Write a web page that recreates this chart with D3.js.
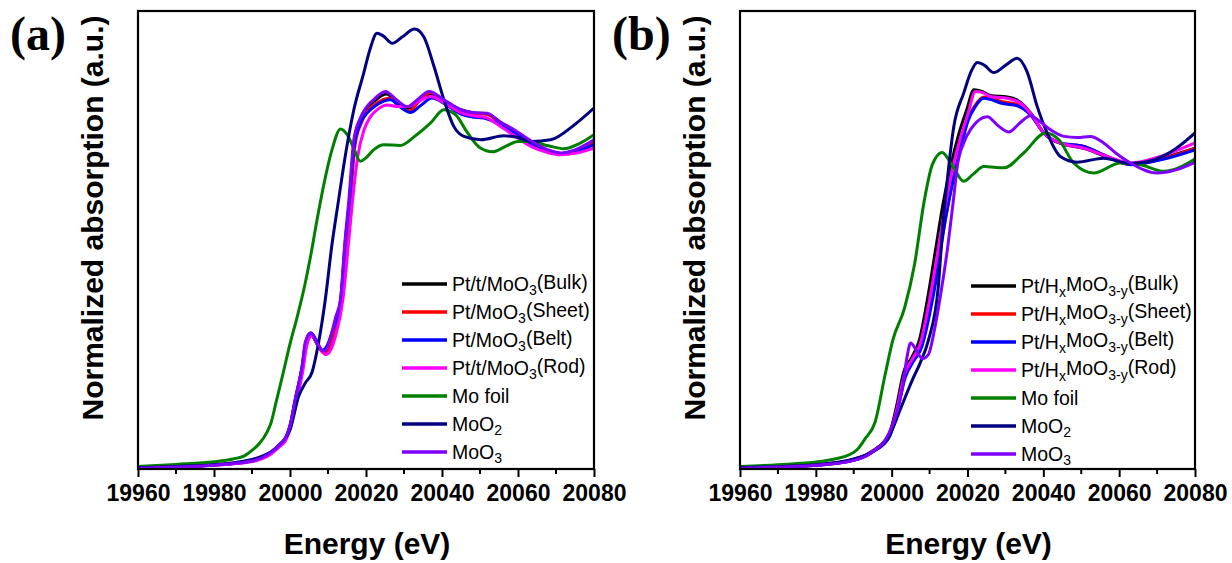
<!DOCTYPE html>
<html>
<head>
<meta charset="utf-8">
<script src="https://cdnjs.cloudflare.com/ajax/libs/d3/7.8.5/d3.min.js"></script>
<style>
  body { margin: 0; background: #fff; }
  svg { display: block; }
</style>
</head>
<body>
<svg id="chart" width="1232" height="563"></svg>
<script>
// Mo K-edge XANES: [energy (eV), normalized absorption]
var energy_ticks = [19960, 19980, 20000, 20020, 20040, 20060, 20080];
var energy_domain = [19960, 20080];
var absorption_domain = [0, 1.6];

var colors = ['#000000', '#ff0000', '#0000ff', '#ff00ff', '#008000', '#000080', '#8000ff'];

var labels_a = ['Pt/t/MoO_{3}(Bulk)', 'Pt/MoO_{3}(Sheet)', 'Pt/MoO_{3}(Belt)', 'Pt/t/MoO_{3}(Rod)',
    'Mo foil', 'MoO_{2}', 'MoO_{3}'];
var labels_b = ['Pt/H_{x}MoO_{3-y}(Bulk)', 'Pt/H_{x}MoO_{3-y}(Sheet)', 'Pt/H_{x}MoO_{3-y}(Belt)',
    'Pt/H_{x}MoO_{3-y}(Rod)', 'Mo foil', 'MoO_{2}', 'MoO_{3}'];

// ---- panel (a)
var a_bulk = [[19960,0.004],[19970,0.008],[19980,0.014],[19990,0.029],[19995,0.058],[19997.4,0.087],
    [19998.7,0.105],[20000,0.15],[20001.4,0.24],[20003.2,0.355],[20004.2,0.44],[20005.5,0.47],[20007.2,0.435],
    [20009,0.405],[20010.2,0.425],[20011.2,0.47],[20013.4,0.59],[20014.6,0.79],[20015.6,0.93],[20016.9,1.14],
    [20018.6,1.22],[20020.2,1.26],[20022.2,1.285],[20025.4,1.31],[20028.2,1.28],[20031,1.26],[20033.8,1.285],
    [20037,1.31],[20040.6,1.285],[20045,1.255],[20048,1.245],[20052,1.24],[20055,1.215],[20059,1.18],
    [20064.3,1.135],[20068,1.112],[20071.3,1.102],[20075,1.112],[20080,1.14]];
var a_sheet = [[19960,0.004],[19970,0.008],[19980,0.014],[19990,0.028],[19995,0.056],[19997.4,0.084],
    [19998.7,0.1],[20000,0.145],[20001.5,0.235],[20003.3,0.35],[20004.3,0.435],[20005.6,0.468],[20007.3,0.432],
    [20009.2,0.402],[20010.4,0.42],[20011.4,0.465],[20013.6,0.58],[20014.8,0.78],[20015.8,0.92],[20017.1,1.13],
    [20018.8,1.21],[20020.4,1.25],[20022.5,1.275],[20026,1.295],[20028.6,1.27],[20031.3,1.25],[20034,1.285],
    [20037,1.315],[20040.6,1.285],[20045,1.252],[20048,1.243],[20052,1.238],[20055,1.212],[20059,1.18],
    [20064.3,1.133],[20068,1.11],[20071.3,1.1],[20075,1.11],[20080,1.14]];
var a_belt = [[19960,0.004],[19970,0.008],[19980,0.014],[19990,0.029],[19995,0.058],[19997.4,0.087],
    [19998.7,0.105],[20000,0.152],[20001.4,0.245],[20003.2,0.36],[20004.2,0.445],[20005.6,0.475],[20007.1,0.445],
    [20008.5,0.415],[20009.8,0.432],[20011,0.475],[20013.3,0.59],[20014.5,0.79],[20015.6,0.93],[20016.9,1.13],
    [20018.6,1.21],[20020.4,1.245],[20022.6,1.27],[20026.5,1.29],[20029,1.265],[20031.7,1.245],[20034.4,1.27],
    [20037.4,1.296],[20040.8,1.275],[20045,1.24],[20048,1.23],[20051,1.226],[20055,1.205],[20059,1.175],
    [20064.3,1.13],[20068,1.108],[20071.3,1.1],[20075,1.108],[20080,1.133]];
var a_rod = [[19960,0.003],[19970,0.007],[19980,0.013],[19990,0.026],[19995,0.052],[19997.4,0.08],
    [19998.7,0.096],[20000,0.14],[20001.6,0.23],[20003.4,0.345],[20004.4,0.43],[20005.7,0.465],[20007.5,0.43],
    [20009.5,0.4],[20010.8,0.418],[20012,0.465],[20014,0.6],[20015.2,0.76],[20016.4,0.93],[20017.8,1.09],
    [20019.5,1.185],[20021.2,1.231],[20023.2,1.258],[20025.6,1.272],[20028.3,1.266],[20030.9,1.266],
    [20034,1.285],[20037,1.301],[20041.4,1.272],[20045,1.245],[20048,1.235],[20051.9,1.226],[20055,1.2],
    [20059,1.165],[20063.4,1.127],[20068,1.105],[20071.3,1.098],[20075,1.103],[20080,1.121]];
var a_foil = [[19960,0.009],[19970,0.016],[19980,0.025],[19985,0.035],[19988,0.046],[19990,0.065],
    [19992,0.09],[19994,0.13],[19995,0.161],[19996.4,0.237],[19998,0.324],[20000,0.437],[20002,0.537],
    [20004,0.649],[20005.5,0.749],[20007,0.862],[20009,1.0],[20011,1.113],[20013.3,1.188],[20015,1.169],
    [20017,1.113],[20018.5,1.075],[20020,1.087],[20022,1.115],[20024.7,1.133],[20029,1.13],[20033,1.164],
    [20037,1.209],[20040.5,1.255],[20043.6,1.237],[20046.7,1.175],[20050,1.122],[20053.3,1.108],
    [20057,1.129],[20060,1.144],[20063,1.144],[20068,1.129],[20072,1.119],[20076,1.136],[20080,1.168]];
var a_moo2 = [[19960,0.005],[19970,0.009],[19980,0.015],[19990,0.033],[19995,0.06],[19998,0.095],
    [20000,0.136],[20002.3,0.255],[20004,0.3],[20005.8,0.338],[20007.5,0.44],[20009.3,0.593],[20011,0.78],
    [20012.8,0.941],[20014.1,1.057],[20016.8,1.255],[20019.4,1.383],[20021,1.464],[20022.9,1.522],
    [20024.5,1.513],[20026.9,1.487],[20029.5,1.509],[20032.8,1.537],[20035.2,1.51],[20037.9,1.406],
    [20040.5,1.29],[20043.1,1.197],[20045.8,1.162],[20050.2,1.15],[20056.3,1.164],[20060,1.158],
    [20063.4,1.144],[20068.6,1.15],[20074.8,1.202],[20080,1.261]];
var a_moo3 = [[19960,0.003],[19970,0.007],[19980,0.013],[19985,0.019],[19990,0.028],[19993,0.042],
    [19995,0.058],[19997.4,0.087],[19998.7,0.105],[20000,0.15],[20001.4,0.244],[20003.2,0.36],[20004,0.442],
    [20005.4,0.476],[20007.1,0.44],[20008.9,0.412],[20010,0.43],[20011,0.476],[20012,0.53],[20013.3,0.593],
    [20014.5,0.8],[20015.5,0.941],[20016.8,1.15],[20018.5,1.226],[20020,1.262],[20022,1.29],[20025.1,1.319],
    [20028,1.29],[20030.9,1.266],[20033.5,1.29],[20036.6,1.319],[20040.5,1.29],[20044.9,1.255],[20048,1.245],
    [20051.9,1.243],[20055,1.215],[20059,1.185],[20064.3,1.139],[20068,1.115],[20071.3,1.104],[20075,1.115],
    [20080,1.15]];

// ---- panel (b)
var b_bulk = [[19960,0.005],[19980,0.014],[19990,0.033],[19995,0.064],[19999.3,0.12],[20001.3,0.22],
    [20003.2,0.34],[20005.3,0.39],[20007.3,0.45],[20009.4,0.59],[20011.5,0.76],[20013.6,0.93],[20015.6,1.06],
    [20017.7,1.17],[20019.8,1.255],[20021.7,1.325],[20024,1.318],[20026.1,1.305],[20030.5,1.3],[20033,1.29],
    [20036.6,1.245],[20040.1,1.175],[20044.5,1.138],[20050.7,1.12],[20056.8,1.09],[20063,1.066],
    [20070.9,1.085],[20080,1.121]];
var b_sheet = [[19960,0.004],[19980,0.013],[19990,0.03],[19995,0.06],[19999.3,0.112],[20001.4,0.205],
    [20003.5,0.325],[20005.6,0.38],[20007.8,0.43],[20009.9,0.55],[20012,0.7],[20014,0.86],[20016,1.0],
    [20018.1,1.12],[20020.2,1.225],[20022.2,1.275],[20024.3,1.3],[20029.6,1.282],[20033.1,1.274],
    [20036.6,1.24],[20040.1,1.174],[20044.5,1.138],[20050.7,1.127],[20056.8,1.092],[20063,1.064],
    [20070.9,1.082],[20080,1.12]];
var b_belt = [[19960,0.004],[19980,0.013],[19990,0.03],[19995,0.06],[19999.3,0.11],[20001.4,0.2],
    [20003.6,0.32],[20005.7,0.375],[20007.9,0.425],[20010,0.54],[20012.1,0.69],[20013.9,0.85],[20015.9,0.99],
    [20018,1.11],[20020.1,1.215],[20022,1.265],[20024.3,1.295],[20029.6,1.276],[20033.1,1.269],
    [20036.6,1.237],[20040.1,1.174],[20044.5,1.139],[20050.7,1.127],[20056.8,1.092],[20063,1.063],
    [20070.9,1.08],[20080,1.115]];
var b_rod = [[19960,0.005],[19980,0.014],[19990,0.032],[19995,0.062],[19999.3,0.115],[20001.4,0.21],
    [20003.4,0.33],[20005.5,0.385],[20007.6,0.44],[20009.7,0.57],[20011.8,0.73],[20013.9,0.9],[20015.9,1.04],
    [20018,1.15],[20020.1,1.24],[20022.1,1.319],[20024,1.315],[20026.1,1.301],[20030.5,1.295],[20034,1.278],
    [20036.6,1.243],[20040.1,1.174],[20044.5,1.139],[20050.7,1.121],[20056.8,1.092],[20063,1.069],
    [20070.9,1.092],[20080,1.139]];
var b_foil = [[19960,0.009],[19970,0.015],[19980.5,0.025],[19988.9,0.05],[19991,0.069],[19993,0.106],
    [19995.6,0.1625],[19998.2,0.325],[20000.3,0.45],[20003.4,0.5625],[20006,0.7125],[20008.6,0.9375],
    [20010.7,1.0625],[20013.3,1.106],[20015.9,1.0625],[20019,1.005],[20021.5,1.03],[20024.3,1.057],
    [20029.6,1.052],[20034.8,1.104],[20040.6,1.174],[20044.1,1.15],[20048,1.069],[20053.3,1.034],
    [20060.3,1.069],[20065.6,1.063],[20071.8,1.04],[20080,1.083]];
var b_moo2 = [[19960,0.005],[19980,0.015],[19990,0.035],[19995,0.06],[19999.3,0.1125],[20002.4,0.2125],
    [20005.5,0.3125],[20007.5,0.37],[20009.7,0.45],[20012.3,0.6375],[20013.5,0.85],[20014.6,1.0],
    [20016.4,1.197],[20019,1.313],[20021,1.39],[20022.6,1.42],[20024.5,1.41],[20026.9,1.385],[20030,1.41],
    [20033.1,1.435],[20035.7,1.388],[20038.4,1.266],[20041,1.174],[20044.5,1.092],[20048.9,1.072],
    [20055.9,1.086],[20063,1.067],[20069.1,1.08],[20075,1.12],[20080,1.174]];
var b_moo3 = [[19960,0.003],[19970,0.007],[19980,0.013],[19990,0.03],[19995,0.06],[19999.3,0.125],
    [20001.4,0.2],[20002.9,0.2875],[20004,0.3875],[20005,0.44],[20006.6,0.4125],[20008.1,0.385],
    [20009.7,0.4],[20011.3,0.4875],[20012.8,0.6],[20014.9,0.7875],[20016.4,0.953],[20017.3,1.057],
    [20019,1.139],[20021,1.19],[20025.2,1.231],[20028,1.2],[20030.9,1.177],[20033.5,1.205],[20036.6,1.234],
    [20039,1.215],[20041.9,1.185],[20045.4,1.162],[20049,1.158],[20052.4,1.162],[20055.9,1.139],
    [20059,1.105],[20063,1.069],[20070,1.034],[20075,1.045],[20080,1.071]];

var svg = d3.select('#chart');
var plot_top = 11, plot_bottom = 469;

// turns 'MoO_{3}' into text + subscript tspans
function writeLabel(text_el, label){
    var parts = label.split(/_\{([^}]*)\}/);
    parts.forEach(function(part, i){
        if (part === '') return;
        var t = text_el.append('tspan').text(part);
        if (i % 2 == 1){
            t.attr('font-size', '0.72em').attr('dy', '0.3em');
        } else if (i > 0){
            t.attr('dy', '-0.3em');
        }
    });
}

function drawPanel(opts){
    var x = d3.scaleLinear().domain(energy_domain).range([opts.left, opts.right]);
    var y = d3.scaleLinear().domain(absorption_domain).range([plot_bottom, plot_top]);
    var g = svg.append('g');

    var line = d3.line()
        .x(function(d){ return x(d[0]); })
        .y(function(d){ return y(d[1]); })
        .curve(d3.curveMonotoneX);

    g.append('clipPath').attr('id', 'clip-' + opts.name)
        .append('rect')
        .attr('x', opts.left).attr('y', plot_top)
        .attr('width', opts.right - opts.left).attr('height', plot_bottom - plot_top);

    g.append('g').attr('clip-path', 'url(#clip-' + opts.name + ')')
        .selectAll('path')
        .data(opts.series)
        .enter().append('path')
        .attr('d', line)
        .attr('fill', 'none')
        .attr('stroke', function(d, i){ return colors[i]; })
        .attr('stroke-width', 3)
        .attr('stroke-linejoin', 'round');

    // minor ticks every 10 eV
    var minor = d3.range(energy_domain[0] + 10, energy_domain[1], 20);
    g.append('g').selectAll('line').data(minor).enter().append('line')
        .attr('x1', x).attr('x2', x)
        .attr('y1', plot_bottom).attr('y2', plot_bottom + 5)
        .attr('stroke', '#000').attr('stroke-width', 2);

    var axis = d3.axisBottom(x).tickValues(energy_ticks).tickSize(8).tickPadding(8)
        .tickFormat(d3.format('d'));
    var ax = g.append('g').attr('transform', 'translate(0,' + plot_bottom + ')').call(axis);
    ax.select('.domain').remove();
    ax.selectAll('line').attr('stroke-width', 2);
    ax.selectAll('text')
        .attr('font-family', '"Liberation Sans", Arial, sans-serif')
        .attr('font-weight', 'bold')
        .attr('font-size', '23px')
        .attr('fill', '#000');

    g.append('rect')
        .attr('x', opts.left).attr('y', plot_top)
        .attr('width', opts.right - opts.left).attr('height', plot_bottom - plot_top)
        .attr('fill', 'none').attr('stroke', '#000').attr('stroke-width', 2.2);

    g.append('text')
        .attr('x', (opts.left + opts.right) / 2 + 1).attr('y', 554)
        .attr('text-anchor', 'middle')
        .attr('font-family', '"Liberation Sans", Arial, sans-serif')
        .attr('font-weight', 'bold').attr('font-size', '30px')
        .text('Energy (eV)');

    g.append('text')
        .attr('transform', 'translate(' + (opts.left - 35) + ',218) rotate(-90)')
        .attr('text-anchor', 'middle')
        .attr('font-family', '"Liberation Sans", Arial, sans-serif')
        .attr('font-weight', 'bold').attr('font-size', '30px')
        .text('Normalized absorption (a.u.)');

    g.append('text')
        .attr('x', opts.left - 128).attr('y', 50)
        .attr('font-family', '"Liberation Serif", "Times New Roman", serif')
        .attr('font-weight', 'bold').attr('font-size', '48px')
        .text(opts.tag);

    var legend = g.append('g');
    opts.labels.forEach(function(label, i){
        var ly = opts.legendY + i * 28;
        legend.append('line')
            .attr('x1', opts.legendX).attr('x2', opts.legendX + 45)
            .attr('y1', ly).attr('y2', ly)
            .attr('stroke', colors[i]).attr('stroke-width', 3.5);
        var t = legend.append('text')
            .attr('x', opts.legendX + 50).attr('y', ly + 7)
            .attr('font-family', '"Liberation Sans", Arial, sans-serif')
            .attr('font-size', '19.5px');
        writeLabel(t, label);
    });
}

drawPanel({
    name: 'a', tag: '(a)', left: 138, right: 594,
    series: [a_bulk, a_sheet, a_belt, a_rod, a_foil, a_moo2, a_moo3],
    labels: labels_a, legendX: 402, legendY: 284
});

drawPanel({
    name: 'b', tag: '(b)', left: 740, right: 1195,
    series: [b_bulk, b_sheet, b_belt, b_rod, b_foil, b_moo2, b_moo3],
    labels: labels_b, legendX: 971, legendY: 286
});
</script>
</body>
</html>
